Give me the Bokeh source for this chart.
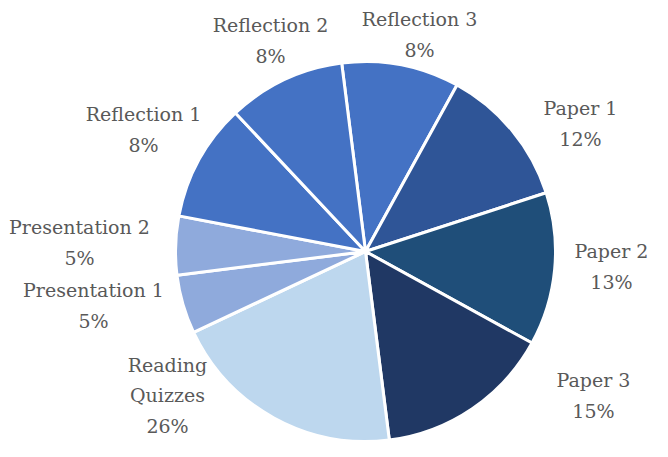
import math
from bokeh.plotting import figure
from bokeh.models import Range1d, ColumnDataSource
from bokeh.embed import file_html
from bokeh.resources import INLINE
from bokeh.core.properties import value

# ---- data (clockwise order, starting at the slice just left of 12 o'clock) ----
categories = ["Reflection 3", "Paper 1", "Paper 2", "Paper 3", "Reading Quizzes",
              "Presentation 1", "Presentation 2", "Reflection 1", "Reflection 2"]
slice_values = [10, 12, 13, 15, 20, 5, 5, 10, 10]
label_percents = ["8%", "12%", "13%", "15%", "26%", "5%", "5%", "8%", "8%"]
label_names = ["Reflection 3", "Paper 1", "Paper 2", "Paper 3", "Reading\nQuizzes",
               "Presentation 1", "Presentation 2", "Reflection 1", "Reflection 2"]

# ---- styles / layout ----
colors = ["#4472C4", "#2F5597", "#1F4E79", "#203864", "#BDD7EE",
          "#8FAADC", "#8FAADC", "#4472C4", "#4472C4"]
W, H = 652, 441
CX, CY = 365, 190          # pie centre (plot units == screen px)
R = 190
START_DEG = -7.2           # first slice begins this many degrees (clockwise) from top
# label block offsets from pie centre, in screen px (dx right, dy down)
label_offsets = [(54, -217), (215, -128), (246, 15), (228, 144), (-198, 144),
                 (-272, 54), (-286, -9), (-222, -122), (-95, -211)]

total = sum(slice_values)
starts, ends = [], []
acc = START_DEG
for v in slice_values:
    a0 = acc
    a1 = acc + 360.0 * v / total
    # convert clockwise-from-top to Bokeh's anticlockwise-from-x
    starts.append(math.radians(90 - a1))
    ends.append(math.radians(90 - a0))
    acc = a1

src = ColumnDataSource(dict(start=starts, end=ends, color=colors, cat=categories))

p = figure(width=W, height=H, x_range=Range1d(0, W), y_range=Range1d(0, H),
           x_axis_type=None, y_axis_type=None, toolbar_location=None,
           output_backend="svg", min_border=0, outline_line_color=None,
           background_fill_color="white", border_fill_color="white")
p.grid.visible = False

p.wedge(x=CX, y=CY, radius=R, radius_units="screen", start_angle="start",
        end_angle="end", direction="anticlock", fill_color="color",
        line_color="white", line_width=3, source=src)

lx = [CX + dx for dx, dy in label_offsets]
ly = [CY - dy for dx, dy in label_offsets]
texts = [f"{n}\n{pc}" for n, pc in zip(label_names, label_percents)]
p.text(x=lx, y=ly, text=texts, text_font=value("DejaVu Serif"),
       text_font_size="19px", text_color="#595959", text_align="center",
       text_baseline="middle", text_line_height=1.37)

open("out.html", "w").write(file_html(p, INLINE))
